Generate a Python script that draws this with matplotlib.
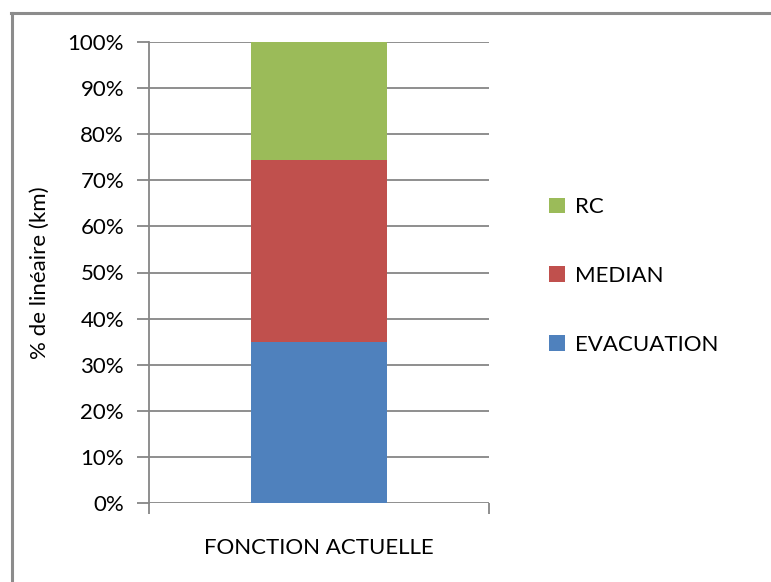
import numpy as np
import matplotlib.pyplot as plt
from matplotlib.lines import Line2D
from matplotlib.ticker import FuncFormatter

plt.rcParams['font.family'] = ['Lato', 'DejaVu Sans']

categories = ["FONCTION ACTUELLE"]
series_names = ["EVACUATION", "MEDIAN", "RC"]
evacuation = [35.0]
median = [39.5]
rc = [25.5]
colors = ["#4f81bd", "#c0504d", "#9bbb59"]

W, H = 771, 582
fs = 16
fig = plt.figure(figsize=(W / 100, H / 100), dpi=100)
ax = fig.add_axes([149 / W, 1 - 503 / H, (489 - 149) / W, (503 - 42) / H])

x = np.arange(len(categories))
bottom = np.zeros(len(categories))
handles = []
for name, vals, c in zip(series_names, [evacuation, median, rc], colors):
    b = ax.bar(x, vals, width=0.4, bottom=bottom, color=c, label=name, zorder=2)
    bottom += np.array(vals)
    handles.append(b)

ax.set_xlim(-0.5, 0.5)
ax.set_ylim(0, 100)
ax.set_yticks(np.arange(0, 101, 10))
ax.yaxis.set_major_formatter(FuncFormatter(lambda v, p: f"{v:.0f}%"))
ax.grid(axis='y', color='#868686', linewidth=1.3, zorder=0)
for s in ['top', 'right', 'bottom']:
    ax.spines[s].set_visible(False)
ax.spines['left'].set_color('#868686')
ax.spines['left'].set_linewidth(1.3)
ax.tick_params(axis='y', length=9, width=1.3, color='#868686', labelsize=fs, pad=9,
               labelcolor='black')
ax.set_xticks([-0.5, 0.5], minor=True)
ax.set_xticks(x)
ax.set_xticklabels(categories, fontsize=fs)
ax.tick_params(axis='x', which='major', length=0, pad=25)
ax.tick_params(axis='x', which='minor', length=8, width=1.3, color='#868686')
ax.set_ylabel("% de linéaire (km)", fontsize=fs, labelpad=13)

# legend, top entry first
ax.legend(handles[::-1], series_names[::-1], loc='center left',
          bbox_to_anchor=(529 / W, 1 - 276 / H), bbox_transform=fig.transFigure,
          frameon=False, fontsize=fs, handlelength=0.7, handleheight=0.7,
          handletextpad=0.45, labelspacing=2.2)

# chart frame: top and left edges
fig.add_artist(Line2D([11 / W, 1], [1 - 12.5 / H, 1 - 12.5 / H], color='#8c8c8c', linewidth=2.2))
fig.add_artist(Line2D([11.5 / W, 11.5 / W], [0, 1 - 12.5 / H], color='#8c8c8c', linewidth=2.2))

fig.savefig("out.png", dpi=100)
